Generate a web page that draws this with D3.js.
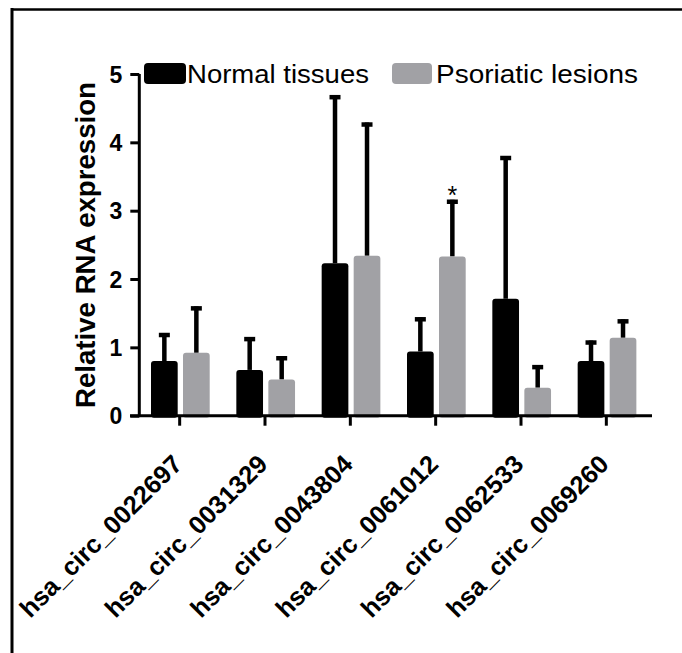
<!DOCTYPE html>
<html lang="en">
<head>
<meta charset="UTF-8">
<title>Relative RNA expression</title>
<style>
  body { margin: 0; background: #fff; }
  svg text { font-family: Arial, "Liberation Sans", sans-serif; }
</style>
</head>
<body>
<svg id="chart" width="682" height="653"></svg>
<script src="https://d3js.org/d3.v7.min.js"></script>
<script>
// data
const categories = ["hsa_circ_0022697", "hsa_circ_0031329", "hsa_circ_0043804",
                    "hsa_circ_0061012", "hsa_circ_0062533", "hsa_circ_0069260"];
const seriesNames = ["Normal tissues", "Psoriatic lesions"];
const normalMean = [0.80, 0.67, 2.23, 0.94, 1.71, 0.80];
const normalSD   = [0.41, 0.48, 2.46, 0.50, 2.09, 0.30];
const lesionMean = [0.92, 0.53, 2.34, 2.33, 0.41, 1.14];
const lesionSD   = [0.68, 0.34, 1.95, 0.83, 0.33, 0.27];
const starred    = ["hsa_circ_0061012"];
const yTicks = [0, 1, 2, 3, 4, 5];

const colors = { "Normal tissues": "#000", "Psoriatic lesions": "#a1a1a5" };

const rows = categories.map((c, i) => ({
  cat: c,
  vals: [
    { s: seriesNames[0], m: normalMean[i], sd: normalSD[i] },
    { s: seriesNames[1], m: lesionMean[i], sd: lesionSD[i] }
  ]
}));

const svg = d3.select("#chart");

// frame (left + top edge of the cropped figure)
svg.append("line").attr("x1", 11).attr("x2", 682).attr("y1", 9.5).attr("y2", 9.5)
  .attr("stroke", "#000").attr("stroke-width", 2.5);
svg.append("line").attr("x1", 12).attr("x2", 12).attr("y1", 8).attr("y2", 653)
  .attr("stroke", "#000").attr("stroke-width", 3);

const y = d3.scaleLinear().domain([0, 5]).range([415.7, 74]);
const x = d3.scaleBand().domain(categories).range([137, 649]);
const x1 = d3.scaleBand().domain(seriesNames).range([14, 72.7]).paddingInner(0.166);
const cx = d => x1(d.s) + x1.bandwidth() / 2;

// bars
const grp = svg.append("g").selectAll("g").data(rows).join("g")
  .attr("transform", d => `translate(${x(d.cat)},0)`);

// error bars (upper only) drawn first, bar covers the lower part
grp.selectAll("line.err").data(d => d.vals).join("line")
  .attr("class", "err")
  .attr("x1", cx).attr("x2", cx)
  .attr("y1", d => y(d.m))
  .attr("y2", d => y(d.m + d.sd))
  .attr("stroke", "#000").attr("stroke-width", 4.5);

grp.selectAll("line.cap").data(d => d.vals).join("line")
  .attr("class", "cap")
  .attr("x1", d => cx(d) - 5.5)
  .attr("x2", d => cx(d) + 5.5)
  .attr("y1", d => y(d.m + d.sd) + 2)
  .attr("y2", d => y(d.m + d.sd) + 2)
  .attr("stroke", "#000").attr("stroke-width", 4.5);

grp.selectAll("rect").data(d => d.vals).join("rect")
  .attr("x", d => x1(d.s))
  .attr("width", x1.bandwidth())
  .attr("y", d => y(d.m))
  .attr("height", d => y(0) - y(d.m) + 2)
  .attr("rx", 3)
  .attr("fill", d => colors[d.s]);

// significance mark
svg.append("g").selectAll("text").data(rows.filter(r => starred.includes(r.cat))).join("text")
  .attr("x", d => x(d.cat) + cx(d.vals[1]))
  .attr("y", d => y(d.vals[1].m + d.vals[1].sd) + 4)
  .attr("text-anchor", "middle")
  .attr("font-size", 25)
  .text("*");

// y axis
const yAxis = svg.append("g")
  .attr("transform", "translate(139.3,0)")
  .call(d3.axisLeft(y).tickValues(yTicks).tickSize(9).tickPadding(8).tickFormat(d3.format("d")));
yAxis.select(".domain").attr("stroke-width", 3).attr("d", "M0,74V417");
yAxis.selectAll(".tick line").attr("stroke-width", 3);
yAxis.selectAll(".tick text").attr("font-size", 23).attr("font-weight", "bold").attr("fill", "#000").attr("dy", "0.36em");

// x axis
const xAxis = svg.append("g")
  .attr("transform", "translate(0,415.7)")
  .call(d3.axisBottom(x).tickSize(10).tickSizeOuter(0));
xAxis.select(".domain").attr("stroke-width", 3).attr("d", "M130,0H652");
xAxis.selectAll(".tick line").attr("stroke-width", 3);
xAxis.selectAll(".tick text")
  .attr("font-size", 25.5).attr("font-weight", "bold").attr("fill", "#000")
  .attr("text-anchor", "end")
  .attr("transform", "translate(4,50) rotate(-45)")
  .attr("dy", 0).attr("y", 0).attr("x", 0);

// y title
svg.append("text")
  .attr("transform", "translate(95,245) rotate(-90)")
  .attr("text-anchor", "middle")
  .attr("font-size", 27).attr("font-weight", "bold")
  .attr("textLength", 326).attr("lengthAdjust", "spacingAndGlyphs")
  .text("Relative RNA expression");

// legend
const legendPos = [{ sx: 144, sw: 42, tx: 187, tw: 182 }, { sx: 392, sw: 40, tx: 436, tw: 202 }];
const leg = svg.append("g").selectAll("g").data(seriesNames).join("g");
leg.append("rect")
  .attr("x", (d, i) => legendPos[i].sx).attr("y", 63)
  .attr("width", (d, i) => legendPos[i].sw).attr("height", 21).attr("rx", 4)
  .attr("fill", d => colors[d]);
leg.append("text")
  .attr("x", (d, i) => legendPos[i].tx).attr("y", 83)
  .attr("font-size", 26)
  .attr("textLength", (d, i) => legendPos[i].tw).attr("lengthAdjust", "spacingAndGlyphs")
  .text(d => d);
</script>
</body>
</html>
